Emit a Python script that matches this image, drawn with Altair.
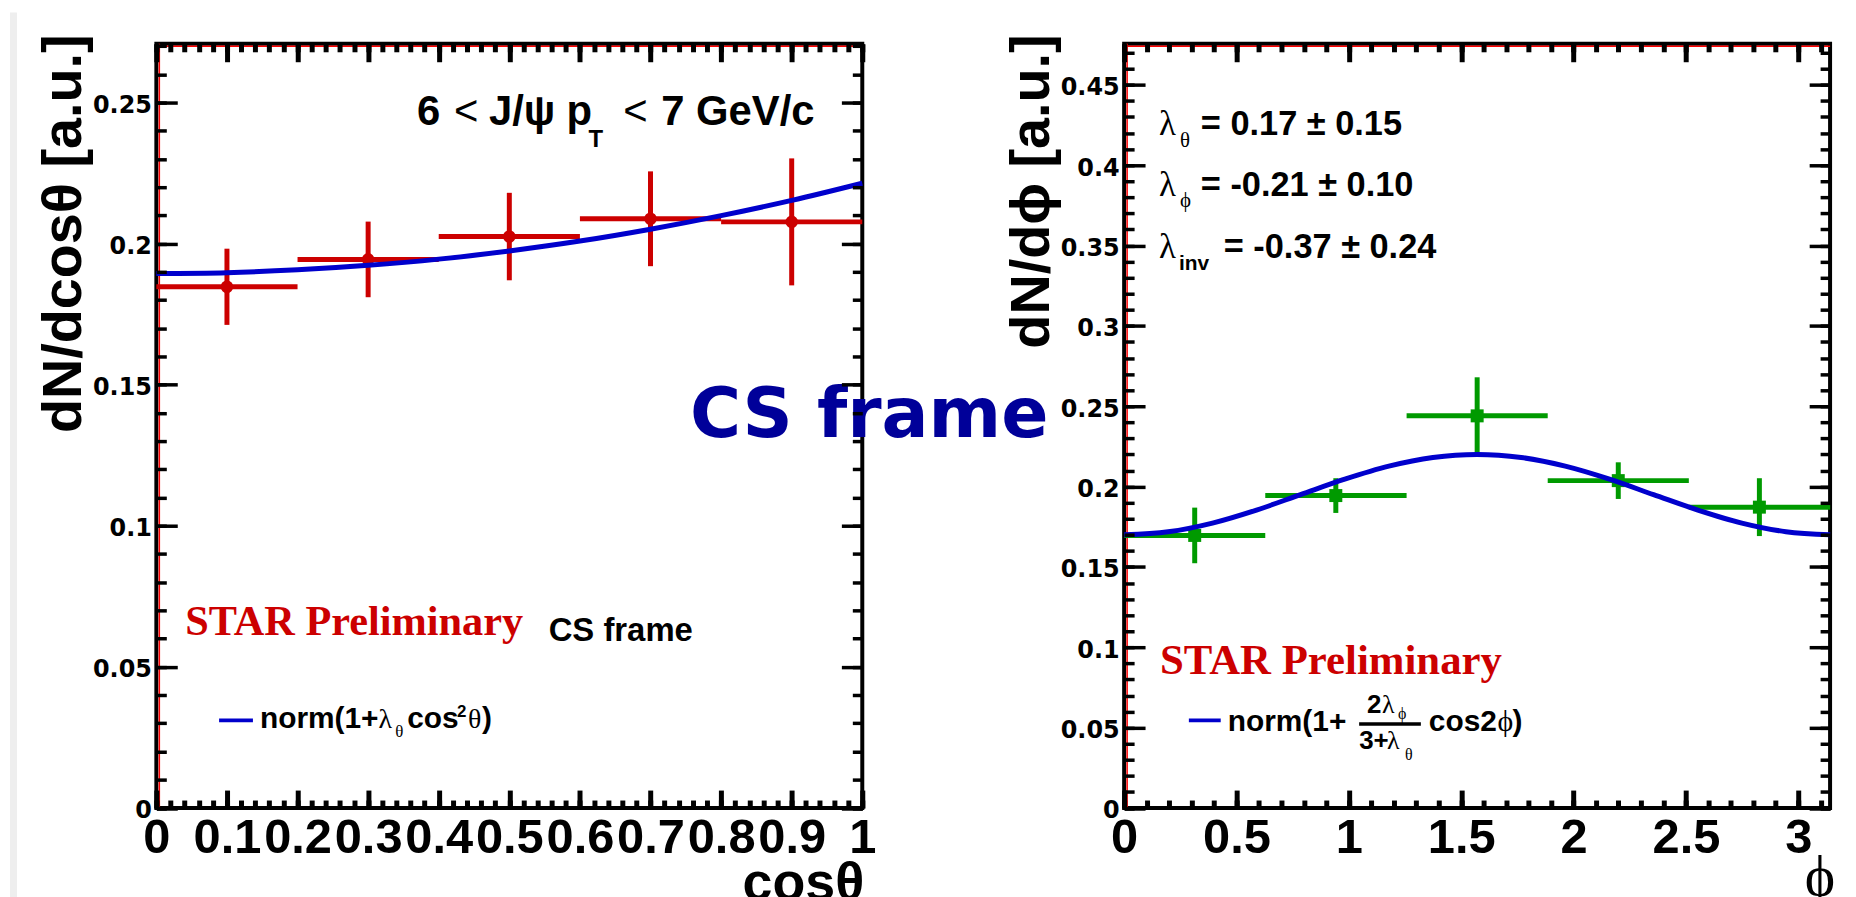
import altair as alt
import pandas as pd

# ---------------- data ----------------
cos_center = [0.1, 0.3, 0.5, 0.7, 0.9]
cos_low = [0.0, 0.2, 0.4, 0.6, 0.8]
cos_high = [0.2, 0.4, 0.6, 0.8, 1.0]
cos_value = [0.1847, 0.1944, 0.2025, 0.2088, 0.2077]
cos_error = [0.0135, 0.0134, 0.0155, 0.0168, 0.0225]

cos_fit_x = [0.0, 0.1, 0.2, 0.3, 0.4, 0.5, 0.6, 0.7, 0.8, 0.9, 1.0]
cos_fit_y = [0.1894, 0.1897, 0.1907, 0.1923, 0.1945, 0.1974, 0.2009, 0.2051, 0.2099, 0.2153, 0.2214]

phi_center = [0.314, 0.942, 1.571, 2.199, 2.827]
phi_low = [0.0, 0.628, 1.257, 1.885, 2.513]
phi_high = [0.628, 1.257, 1.885, 2.513, 3.142]
phi_value = [0.1696, 0.1944, 0.2440, 0.2037, 0.1872]
phi_error = [0.0173, 0.0108, 0.0240, 0.0114, 0.0180]

phi_fit_x = [0.0, 0.196, 0.393, 0.589, 0.785, 0.982, 1.178, 1.374, 1.571,
             1.767, 1.963, 2.160, 2.356, 2.553, 2.749, 2.945, 3.142]
phi_fit_y = [0.1700, 0.1719, 0.1773, 0.1854, 0.1950, 0.2046, 0.2127, 0.2181, 0.2200,
             0.2181, 0.2127, 0.2046, 0.1950, 0.1854, 0.1773, 0.1719, 0.1700]

# tick values
cos_major = [0, 0.1, 0.2, 0.3, 0.4, 0.5, 0.6, 0.7, 0.8, 0.9, 1.0]
cos_minor = [round(0.02 * i, 2) for i in range(51)]
ly_major = [0, 0.05, 0.1, 0.15, 0.2, 0.25]
ly_minor = [round(0.01 * i, 2) for i in range(28)]
phi_major = [0, 0.5, 1, 1.5, 2, 2.5, 3]
phi_minor = [round(0.1 * i, 1) for i in range(32)]
ry_major = [0, 0.05, 0.1, 0.15, 0.2, 0.25, 0.3, 0.35, 0.4, 0.45]
ry_minor = [round(0.01 * i, 2) for i in range(48)]

W, H = 709, 767.5
RED = "#cc0000"
GREEN = "#009a00"
BLUE = "#0000cc"
SANS = "Liberation Sans"
SERIF = "Liberation Serif"


def make_df(c, lo, hi, v, e):
    return pd.DataFrame({
        "x": c, "xlo": lo, "xhi": hi, "y": v,
        "ylo": [a - b for a, b in zip(v, e)],
        "yhi": [a + b for a, b in zip(v, e)],
    })


def tick_axis(orient, values, size, width):
    return alt.Axis(orient=orient, values=values, tickSize=size, offset=-size,
                    tickWidth=width, tickColor="black", domain=False, grid=False,
                    labels=False, ticks=True, title=None, zindex=1)


def label_axis_x(values, size, fmt):
    return alt.Axis(orient="bottom", values=values, tickSize=size, offset=-size,
                    tickWidth=5, tickColor="black", domain=False, grid=False,
                    labels=True, labelFont=SANS, labelFontWeight="bold",
                    labelFontSize=49, labelColor="black", labelPadding=6,
                    labelFlush=False, labelOverlap=False, format=fmt,
                    title=None, zindex=1)


def label_axis_y(values, size):
    return alt.Axis(orient="left", values=values, tickSize=size, offset=-size,
                    tickWidth=3.5, tickColor="black", domain=False, grid=False,
                    labels=True, labelFont="DejaVu Sans", labelFontWeight="bold",
                    labelFontSize=24, labelColor="black", labelPadding=5,
                    labelOffset=3, labelFlush=False, labelOverlap=False,
                    format=".2~f", title=None, zindex=1)


base = alt.Chart(pd.DataFrame({"d": [0]}))


def txt(text, x, y, size, font=SANS, weight="bold", color="black", align="left", angle=0):
    return base.mark_text(text=text, font=font, fontSize=size, fontWeight=weight,
                          color=color, align=align, baseline="alphabetic",
                          angle=angle).encode(x=alt.value(x), y=alt.value(y))


def seg(x1, x2, y, color, width):
    return base.mark_rule(color=color, strokeWidth=width).encode(
        x=alt.value(x1), x2=alt.value(x2), y=alt.value(y))


def red_edges():
    return [
        base.mark_rule(color="#ff0000", strokeWidth=1.5).encode(
            x=alt.value(3), y=alt.value(0), y2=alt.value(H)),
        base.mark_rule(color="#ff0000", strokeWidth=1.5).encode(
            x=alt.value(0), x2=alt.value(W), y=alt.value(2.5)),
    ]


def panel(df, fit_df, xdom, ydom, xmaj, xmin, ymaj, ymin, xfmt, color, shape, psize, extra):
    xs = alt.Scale(domain=xdom, nice=False, zero=False)
    ys = alt.Scale(domain=ydom, nice=False, zero=False)
    c = alt.Chart(df)
    hbar = c.mark_rule(color=color, strokeWidth=5).encode(
        x=alt.X("xlo:Q", scale=xs, axis=label_axis_x(xmaj, 18, xfmt)),
        x2="xhi:Q",
        y=alt.Y("y:Q", scale=ys, axis=label_axis_y(ymaj, 21)),
    )
    vbar = c.mark_rule(color=color, strokeWidth=5).encode(
        x=alt.X("x:Q", scale=xs, axis=tick_axis("bottom", xmin, 8, 5)),
        y=alt.Y("ylo:Q", scale=ys, axis=tick_axis("left", ymin, 10, 3.5)),
        y2="yhi:Q",
    )
    pts = c.mark_point(shape=shape, filled=True, opacity=1, size=psize, color=color).encode(
        x=alt.X("x:Q", scale=xs, axis=tick_axis("top", xmaj, 18, 5)),
        y=alt.Y("y:Q", scale=ys, axis=tick_axis("right", ymaj, 21, 3.5)),
    )
    fit = alt.Chart(fit_df).mark_line(color=BLUE, strokeWidth=5, interpolate="monotone").encode(
        x=alt.X("fx:Q", scale=xs, axis=tick_axis("top", xmin, 8, 5)),
        y=alt.Y("fy:Q", scale=ys, axis=tick_axis("right", ymin, 10, 3.5)),
    )
    layers = red_edges() + [hbar, vbar, pts, fit] + extra
    return alt.layer(*layers).properties(width=W, height=H).resolve_axis(
        x="independent", y="independent")


left_df = make_df(cos_center, cos_low, cos_high, cos_value, cos_error)
left_fit = pd.DataFrame({"fx": cos_fit_x, "fy": cos_fit_y})
right_df = make_df(phi_center, phi_low, phi_high, phi_value, phi_error)
right_fit = pd.DataFrame({"fx": phi_fit_x, "fy": phi_fit_y})

# light grey strip at the very left of the page (also fixes the layout origin)
grey_strip = base.mark_rect(color="#eeeeee").encode(
    x=alt.value(-147), x2=alt.value(-140), y=alt.value(-31.5), y2=alt.value(H + 90))

left_extra = [
    grey_strip,
    txt("dN/dcosθ [a.u.]", -75.5, -9.5, 56, align="right", angle=270),
    txt("cosθ", W + 2, 860, 54, align="right"),
    txt("6", 261.7, 82, 42),
    txt("<", 299, 82, 42, weight="normal"),
    txt("J/ψ", 334, 82, 42),
    txt("p", 412, 82, 42),
    txt("T", 434, 104, 24),
    txt("<", 469, 82, 42, weight="normal"),
    txt("7 GeV/c", 507, 82, 42),
    txt("STAR Preliminary", 29, 594, 42.5, font=SERIF, color=RED),
    txt("CS frame", 394, 600, 33),
    seg(63, 97, 679.5, BLUE, 4),
    txt("norm(1+", 104, 687, 30),
    txt("λ", 223, 687, 28, font=SERIF, weight="normal"),
    txt("θ", 240, 696, 17, font=SERIF, weight="normal"),
    txt("cos", 252, 687, 30),
    txt("2", 302, 676, 17),
    txt("θ", 313, 687, 28, font=SERIF, weight="normal"),
    txt(")", 327, 687, 30),
    txt("CS frame", 716, 395, 70, font="DejaVu Sans", color="#000099", align="center"),
]

right_extra = [
    txt("dN/dϕ [a.u.]", -75.5, -9.5, 56, align="right", angle=270),
    txt("ϕ", W + 5, 855, 58, font=SERIF, weight="normal", align="right"),
    txt("λ", 35, 92, 35, font=SERIF, weight="normal"),
    txt("θ", 56, 104, 21, font=SERIF, weight="normal"),
    txt("= 0.17 ± 0.15", 77, 92, 34.5),
    txt("λ", 35, 152.5, 35, font=SERIF, weight="normal"),
    txt("ϕ", 56, 164, 21, font=SERIF, weight="normal"),
    txt("= -0.21 ± 0.10", 77, 152.5, 34.5),
    txt("λ", 35, 215.5, 35, font=SERIF, weight="normal"),
    txt("inv", 55, 227, 21),
    txt("= -0.37 ± 0.24", 100, 215.5, 34.5),
    txt("STAR Preliminary", 36, 632.5, 43, font=SERIF, color=RED),
    seg(65, 97, 679.5, BLUE, 4),
    txt("norm(1+", 104, 690.5, 30),
    txt("2", 244, 672, 26),
    txt("λ", 259, 672, 26, font=SERIF, weight="normal"),
    txt("ϕ", 275, 678, 16, font=SERIF, weight="normal"),
    seg(236, 298, 683.2, "black", 3.5),
    txt("3+", 236, 708, 26),
    txt("λ", 264, 708, 26, font=SERIF, weight="normal"),
    txt("θ", 282, 719, 16, font=SERIF, weight="normal"),
    txt("cos2", 306, 690.5, 30),
    txt("ϕ", 375, 690.5, 30, font=SERIF, weight="normal"),
    txt(")", 390, 690.5, 30),
]

left = panel(left_df, left_fit, [0, 1], [0, 0.2708], cos_major, cos_minor,
             ly_major, ly_minor, ".1~f", RED, "circle", 160, left_extra)
right = panel(right_df, right_fit, [0, 3.1416], [0, 0.4755], phi_major, phi_minor,
              ry_major, ry_minor, ".1~f", GREEN, "square", 170, right_extra)

chart = alt.hconcat(left, right, spacing=263, bounds="flush").properties(
    padding={"left": 0, "top": 0, "right": 5, "bottom": 0},
    background="white",
).configure_view(stroke="black", strokeWidth=4)

chart.save("out.html", embed_options={"renderer": "svg", "actions": False})
